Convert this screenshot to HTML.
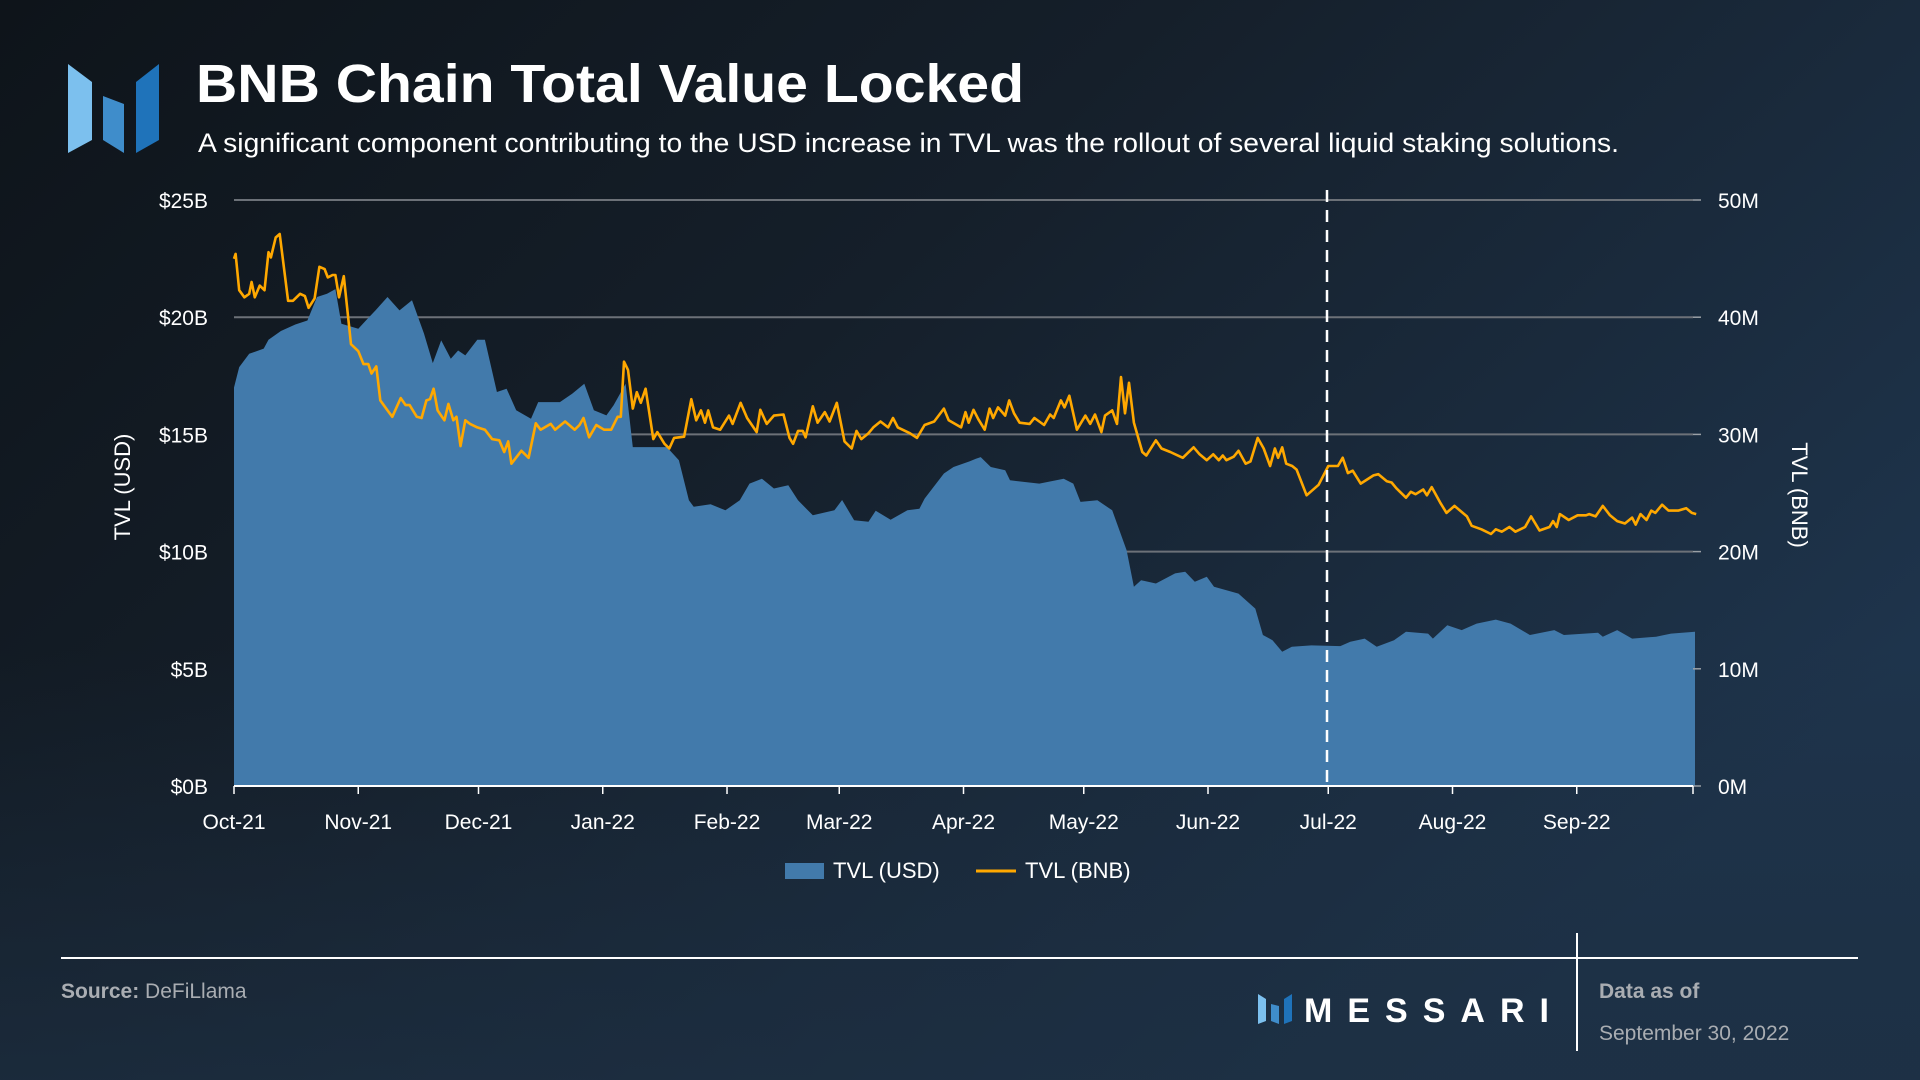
<!DOCTYPE html>
<html><head><meta charset="utf-8"><style>
html,body{margin:0;padding:0;width:1920px;height:1080px;overflow:hidden;background:#121b24;}
svg{display:block;font-family:"Liberation Sans",sans-serif;}
</style></head><body>
<svg id="chart" width="1920" height="1080" viewBox="0 0 1920 1080" xmlns="http://www.w3.org/2000/svg">
<defs>
<linearGradient id="bg" x1="0" y1="0" x2="1" y2="0.6">
<stop offset="0" stop-color="#0e141a"/><stop offset="0.45" stop-color="#151f2a"/><stop offset="1" stop-color="#1e344c"/>
</linearGradient>
<linearGradient id="bg2" x1="0" y1="0" x2="0" y2="1">
<stop offset="0.6" stop-color="#1b2b3c" stop-opacity="0"/><stop offset="1" stop-color="#1d2f42" stop-opacity="0.7"/>
</linearGradient>
</defs>
<rect x="0" y="0" width="1920" height="1080" fill="url(#bg)"/>
<rect x="0" y="0" width="1920" height="1080" fill="url(#bg2)"/>
<g>
<polygon points="68,64 92,82 92,140 68,153" fill="#7cc0ee"/>
<polygon points="103,96 124,104 124,153 103,140" fill="#3f8dcb"/>
<polygon points="136,82 159,64 159,140 136,153" fill="#1f73ba"/>
</g>
<text x="196" y="102" font-size="54" font-weight="bold" fill="#ffffff" textLength="828" lengthAdjust="spacingAndGlyphs">BNB Chain Total Value Locked</text>
<text x="198" y="152" font-size="27" fill="#ffffff" textLength="1421" lengthAdjust="spacingAndGlyphs">A significant component contributing to the USD increase in TVL was the rollout of several liquid staking solutions.</text>
<g id="grid"></g>
<g id="area"></g>
<g id="line"></g>
<g id="axes"></g>
<line x1="1327" y1="190" x2="1327" y2="786" stroke="#ffffff" stroke-width="2.5" stroke-dasharray="12,8"/>
<text transform="translate(130,487) rotate(-90)" text-anchor="middle" font-size="22" fill="#ffffff">TVL (USD)</text>
<text transform="translate(1792,495) rotate(90)" text-anchor="middle" font-size="22" fill="#ffffff">TVL (BNB)</text>
<g>
<rect x="785" y="863" width="39" height="16" fill="#427aab"/>
<text x="833" y="878" font-size="22" fill="#ffffff">TVL (USD)</text>
<line x1="976" y1="871" x2="1016" y2="871" stroke="#ffa800" stroke-width="3"/>
<text x="1025" y="878" font-size="22" fill="#ffffff">TVL (BNB)</text>
</g>
<line x1="61" y1="958" x2="1858" y2="958" stroke="#ffffff" stroke-width="2"/>
<line x1="1577" y1="933" x2="1577" y2="1051" stroke="#ffffff" stroke-width="2"/>
<text x="61" y="998" font-size="21" fill="#a9adb2"><tspan font-weight="bold">Source:</tspan> DeFiLlama</text>
<g>
<polygon points="1258,994 1266,999 1266,1021 1258,1024" fill="#7cc0ee"/>
<polygon points="1271,1004 1279,1006 1279,1024 1271,1021" fill="#3f8dcb"/>
<polygon points="1284,999 1292,994 1292,1021 1284,1024" fill="#1f73ba"/>
<text x="1304" y="1022" font-size="34" font-weight="bold" fill="#ffffff" textLength="245" lengthAdjust="spacing">MESSARI</text>
</g>
<text x="1599" y="998" font-size="21" font-weight="bold" fill="#a9adb2">Data as of</text>
<text x="1599" y="1040" font-size="21" fill="#a9adb2">September 30, 2022</text>
</svg>
<script>
const usdDays = [0,1.3,3.8,7.4,8.6,11.7,15.3,18.3,20.7,23.2,25.3,26.8,31,32.9,35.3,38.3,41.3,44.4,47.4,49.6,51.7,54.1,55.9,57.7,60.7,62.6,65.6,68,70.4,74.1,75.9,81.3,84.4,87.4,89.8,92.9,94.7,97.7,99.5,104.4,108,111,113.5,114.7,118.9,122.6,126.2,128.6,131.7,134.7,138.3,140.7,144.4,149.8,151.7,154.7,158.3,160.1,163.8,168,171,172.3,177.1,179.5,183.5,185.1,186.3,188.8,192.4,193.6,197.3,200.9,207,209.4,211.2,215.4,219.1,222.7,224.5,226.3,230,234.8,237.3,239.7,242.7,244.5,250.6,254.8,256.7,259.1,261.5,263.9,268.8,276,278.5,282.1,285.1,289.4,292.4,297.9,299.1,302.7,306.3,310,314.8,318.5,323.3,329.4,331.8,340.3,341.5,345.1,348.8,354.8,358.5,364.5];
const usdValues = [17.0,17.87,18.44,18.66,19.04,19.41,19.69,19.86,20.86,21.0,21.2,19.72,19.51,19.86,20.29,20.86,20.29,20.72,19.3,18.04,19.01,18.23,18.58,18.37,19.04,19.04,16.81,16.95,16.03,15.67,16.38,16.38,16.74,17.16,16.03,15.81,16.24,17.16,14.46,14.46,14.46,13.9,12.19,11.91,12.02,11.76,12.19,12.9,13.11,12.69,12.83,12.19,11.55,11.76,12.2,11.34,11.27,11.74,11.36,11.76,11.83,12.26,13.33,13.61,13.85,13.96,14.03,13.61,13.47,13.04,12.97,12.9,13.11,12.9,12.12,12.19,11.76,10.06,8.5,8.78,8.64,9.07,9.14,8.71,8.93,8.5,8.21,7.57,6.44,6.22,5.73,5.94,6.0,5.97,6.15,6.29,5.94,6.22,6.58,6.5,6.29,6.86,6.65,6.93,7.1,6.93,6.44,6.65,6.44,6.54,6.37,6.65,6.29,6.37,6.5,6.58];
const bnbDays = [0,0.4,1.3,2.6,3.8,4.4,5.2,6.4,7.6,8.6,9.2,10.4,11.4,13.5,14.7,16.5,17.7,18.6,20.1,21.3,22.6,23.4,24.6,25.3,26.2,27.4,29.2,31,32.3,33.5,34.3,35.5,36.5,38.3,39.5,41.6,42.8,43.8,45.6,46.8,48,48.9,49.8,50.8,52.5,53.5,54.7,55.5,56.5,57.7,58.9,60.7,62.6,64.4,66.2,67.4,68.4,69.2,71.7,73.5,75.3,76.5,79,80.1,82.6,85,86.2,87.2,88.6,90.4,92.3,94.1,95.7,96.5,97.3,98.3,99.5,100.5,101.5,102.7,103.8,104.6,105.6,107.4,108.6,109.8,112.3,114.1,115.3,116.5,117.5,118.3,119.5,121.3,123.5,124.4,126.4,128,130.4,131.3,132.9,134.7,137.1,138.6,139.5,140.7,141.9,142.6,144.4,145.6,147.4,148.6,150.4,152.3,154.1,155.3,156.5,158.3,159.5,161.3,163.2,164.4,165.6,168.6,170.4,172.3,174.7,177.1,178.3,181.4,182.5,183.3,184.5,185.7,187.3,188.5,189.4,190.6,192.4,193.4,194.6,196,198.5,199.7,202.1,203.6,204.5,206.3,207.2,208.4,210.3,212.4,213.6,214.8,216.4,217.3,219.1,220.3,221.3,222.3,223.3,224.5,226.6,227.6,230,231.4,233.6,236.7,239.4,240.9,242.7,244.3,245.7,246.7,247.6,249.4,250.6,252.4,253.6,255.4,256.9,258.5,259.7,260.5,261.5,262.5,264,265.1,267.6,270.6,273,275.4,276.6,277.9,279.1,281.1,284.3,285.5,287.6,288.8,290,292.4,293.6,294.8,296.7,297.6,298.8,300.9,302.5,304.5,307.6,308.8,311.2,313.6,314.8,316.3,318.2,319.7,322.1,323.6,325.7,328.2,329.1,330,330.8,333,335.2,337.3,338.1,339.7,341.5,343.3,345.1,347,348.8,349.7,350.9,352.4,353.6,354.6,356.3,357.9,360.3,362.3,363.7,364.8];
const bnbValues = [44.98,45.4,42.3,41.7,42.0,43.0,41.7,42.7,42.3,45.55,45.1,46.8,47.1,41.4,41.4,42.0,41.8,40.8,41.6,44.3,44.1,43.4,43.6,43.6,41.7,43.5,37.7,37.1,36.0,36.0,35.2,35.8,32.9,32.05,31.5,33.1,32.5,32.5,31.5,31.4,32.9,33.0,33.9,32.05,31.2,32.6,31.2,31.5,29.0,31.2,30.9,30.6,30.4,29.6,29.5,28.5,29.4,27.5,28.6,28.0,30.95,30.4,30.9,30.4,31.1,30.4,30.8,31.4,29.75,30.8,30.4,30.4,31.5,31.5,36.2,35.5,32.2,33.6,32.7,33.9,31.4,29.6,30.2,29.2,28.8,29.7,29.8,33.0,31.2,32.05,31.0,32.05,30.6,30.4,31.6,30.9,32.7,31.4,30.2,32.1,30.9,31.6,31.7,29.7,29.2,30.3,30.3,29.75,32.4,31.0,31.9,31.1,32.7,29.4,28.8,30.3,29.6,30.1,30.6,31.1,30.6,31.4,30.6,30.1,29.7,30.8,31.1,32.2,31.2,30.6,31.9,31.0,32.1,31.3,30.4,32.2,31.4,32.3,31.6,32.9,31.8,31.0,30.9,31.4,30.8,31.7,31.4,32.9,32.3,33.3,30.4,31.6,30.9,31.7,30.2,31.6,32.05,30.9,34.9,31.8,34.4,31.0,28.5,28.2,29.5,28.8,28.5,28.0,28.9,28.3,27.8,28.3,27.8,28.2,27.8,28.1,28.6,27.5,27.7,29.7,28.8,27.3,28.8,28.0,28.9,27.5,27.3,27.0,24.8,25.7,27.3,27.3,28.0,26.7,26.9,25.8,26.5,26.6,26.0,25.9,25.4,24.6,25.1,24.9,25.3,24.8,25.5,24.2,23.3,23.9,23.0,22.2,21.9,21.5,21.9,21.7,22.1,21.7,22.1,23.0,21.8,22.1,22.6,22.1,23.2,22.7,23.1,23.1,23.2,23.0,23.9,23.1,22.6,22.4,22.9,22.3,23.2,22.7,23.5,23.3,24.0,23.5,23.5,23.7,23.3,23.2];
const leftTicks = [0,5,10,15,20,25];
const leftTickLabels = ["$0B","$5B","$10B","$15B","$20B","$25B"];
const rightTickLabels = ["0M","10M","20M","30M","40M","50M"];
const monthDays = [0,31,61,92,123,151,182,212,243,273,304,335];
const monthLabels = ["Oct-21","Nov-21","Dec-21","Jan-22","Feb-22","Mar-22","Apr-22","May-22","Jun-22","Jul-22","Aug-22","Sep-22"];

const NS = "http://www.w3.org/2000/svg";
const X0 = 234, X1 = 1693, Y0 = 786, YT = 200;
const xS = d => X0 + d * (X1 - X0) / 364;
const yL = v => Y0 - v * (Y0 - YT) / 25;
const yR = m => Y0 - m * (Y0 - YT) / 50;
function mk(tag, attrs, parent) {
  const el = document.createElementNS(NS, tag);
  for (const k in attrs) el.setAttribute(k, attrs[k]);
  parent.appendChild(el);
  return el;
}
const grid = document.getElementById('grid'), axes = document.getElementById('axes');
leftTicks.forEach((t, i) => {
  if (t > 0) {
    const g = mk('line', {x1: X0, x2: X1, y1: yL(t), y2: yL(t), stroke: '#6c7178', 'stroke-width': 2}, grid);
    
    
  }
  const lt = mk('text', {x: 208, y: yL(t) + 8, 'text-anchor': 'end', 'font-size': 21, fill: '#ffffff'}, axes);
  lt.textContent = leftTickLabels[i];
  
  
  const rt = mk('text', {x: 1718, y: yL(t) + 8, 'font-size': 21, fill: '#ffffff'}, axes);
  rt.textContent = rightTickLabels[i];
  
  
  const rk = mk('line', {x1: X1, x2: X1 + 8, y1: yL(t), y2: yL(t), stroke: '#9aa0a6', 'stroke-width': 1.5}, axes);
  
  
});
let d = 'M' + xS(usdDays[0]) + ',' + Y0;
usdDays.forEach((dd, i) => { d += ' L' + xS(dd).toFixed(1) + ',' + yL(usdValues[i]).toFixed(1); });
d += ' L' + xS(usdDays[usdDays.length - 1]).toFixed(1) + ',' + Y0 + ' Z';
const area = mk('path', {d: d, fill: '#427aab'}, document.getElementById('area'));


let ld = '';
bnbDays.forEach((dd, i) => { ld += (i ? ' L' : 'M') + xS(dd).toFixed(1) + ',' + yR(bnbValues[i]).toFixed(1); });
const line = mk('path', {d: ld, fill: 'none', stroke: '#ffa800', 'stroke-width': 2.6, 'stroke-linejoin': 'round'}, document.getElementById('line'));


const ax = mk('line', {x1: X0, x2: X1, y1: Y0, y2: Y0, stroke: '#ffffff', 'stroke-width': 2}, axes);


monthDays.concat([364]).forEach(md => {
  const tk = mk('line', {x1: xS(md), x2: xS(md), y1: Y0, y2: Y0 + 8, stroke: '#ffffff', 'stroke-width': 1.5}, axes);
  
  
});
monthDays.forEach((md, i) => {
  const t = mk('text', {x: xS(md), y: 829, 'text-anchor': 'middle', 'font-size': 21, fill: '#ffffff'}, axes);
  t.textContent = monthLabels[i];
  
  
});
</script>
</body></html>
